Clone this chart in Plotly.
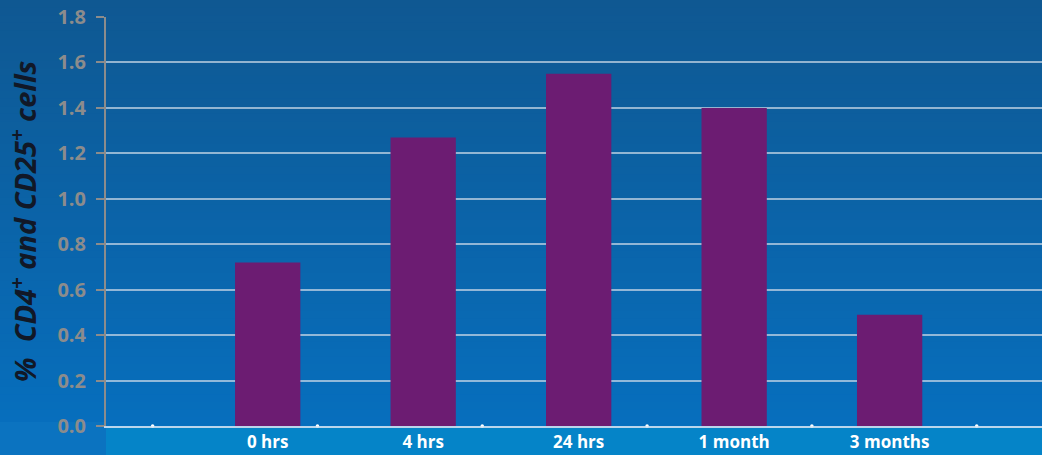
import plotly.graph_objects as go

# Time points and percentage of CD4+ CD25+ cells
timepoints = ["0 hrs", "4 hrs", "24 hrs", "1 month", "3 months"]
pct_cells = [0.72, 1.27, 1.55, 1.40, 0.49]
y_ticks = [0.0, 0.2, 0.4, 0.6, 0.8, 1.0, 1.2, 1.4, 1.6, 1.8]
tick_text = [f"{v:.1f}" for v in y_ticks]

W, H = 1042, 455
ML, MR, MT, MB = 106, 0, 17, 29


def lerp(c1, c2, t):
    return tuple(round(a + (b - a) * t) for a, b in zip(c1, c2))


top_col = (15, 88, 146)
bot_col = (6, 112, 192)

shapes = []
# vertical gradient background built from thin horizontal strips
n = 60
ph = H - MT - MB
for i in range(n):
    y0 = -MB / ph + (H / ph) * i / n
    y1 = -MB / ph + (H / ph) * (i + 1) / n + 0.002
    c = lerp(bot_col, top_col, i / (n - 1))
    shapes.append(dict(type="rect", xref="paper", yref="paper",
                       x0=-ML / (W - ML - MR), x1=1.0, y0=y0, y1=y1,
                       fillcolor=f"rgb{c}", line_width=0, layer="below"))

# lighter band behind the category labels
shapes.append(dict(type="rect", xref="paper", yref="paper",
                   x0=0, x1=1, y0=-MB / ph, y1=-2 / ph,
                   fillcolor="#0584c8", line_width=0, layer="below"))
shapes.append(dict(type="rect", xref="paper", yref="paper",
                   x0=-ML / (W - ML - MR), x1=0, y0=-MB / ph, y1=4 / ph,
                   fillcolor="#0b73c0", line_width=0, layer="below"))

fig = go.Figure()
fig.add_trace(go.Bar(
    x=list(range(len(timepoints))), y=pct_cells,
    marker=dict(color="#6c1c72", line=dict(width=0)),
    width=0.42, hoverinfo="skip",
))

# small tick dots along the baseline
dot_x = [-0.74, 0.32, 1.38, 2.44, 3.5, 4.56]
fig.add_trace(go.Scatter(
    x=dot_x, y=[0] * len(dot_x), mode="markers",
    marker=dict(color="white", size=3.5, symbol="circle", line_width=0),
    hoverinfo="skip", cliponaxis=False,
))

fig.update_layout(
    width=W, height=H,
    margin=dict(l=ML, r=MR, t=MT, b=MB),
    paper_bgcolor="#0a66ad",
    plot_bgcolor="rgba(0,0,0,0)",
    showlegend=False,
    shapes=shapes,
    font=dict(family="Open Sans, sans-serif"),
    xaxis=dict(
        range=[-1.04, 4.98],
        tickmode="array",
        tickvals=list(range(len(timepoints))),
        ticktext=[f"<b>{t}</b>" for t in timepoints],
        tickfont=dict(color="white", size=17),
        ticks="", showgrid=False, zeroline=False,
        showline=True, linecolor="rgba(220,232,245,0.85)", linewidth=1.5,
        ticklabelstandoff=0,
        fixedrange=True,
    ),
    yaxis=dict(
        range=[0, 1.8],
        tickmode="array",
        tickvals=y_ticks,
        ticktext=[f"<b>{t}</b>" for t in tick_text],
        tickfont=dict(color="#8c8c8c", size=20),
        ticks="outside", ticklen=8, tickwidth=2, tickcolor="#8c8c8c",
        ticklabelstandoff=6,
        showline=True, linecolor="#8c8c8c", linewidth=2,
        showgrid=True, gridcolor="rgba(200,215,230,0.72)", gridwidth=2,
        zeroline=False,
        title=dict(
            text="<b><i>%  CD4<sup>+</sup> and CD25<sup>+</sup> cells</i></b>",
            font=dict(color="#111827", size=29),
            standoff=12,
        ),
        fixedrange=True,
    ),
)

fig.write_html("out.html")
